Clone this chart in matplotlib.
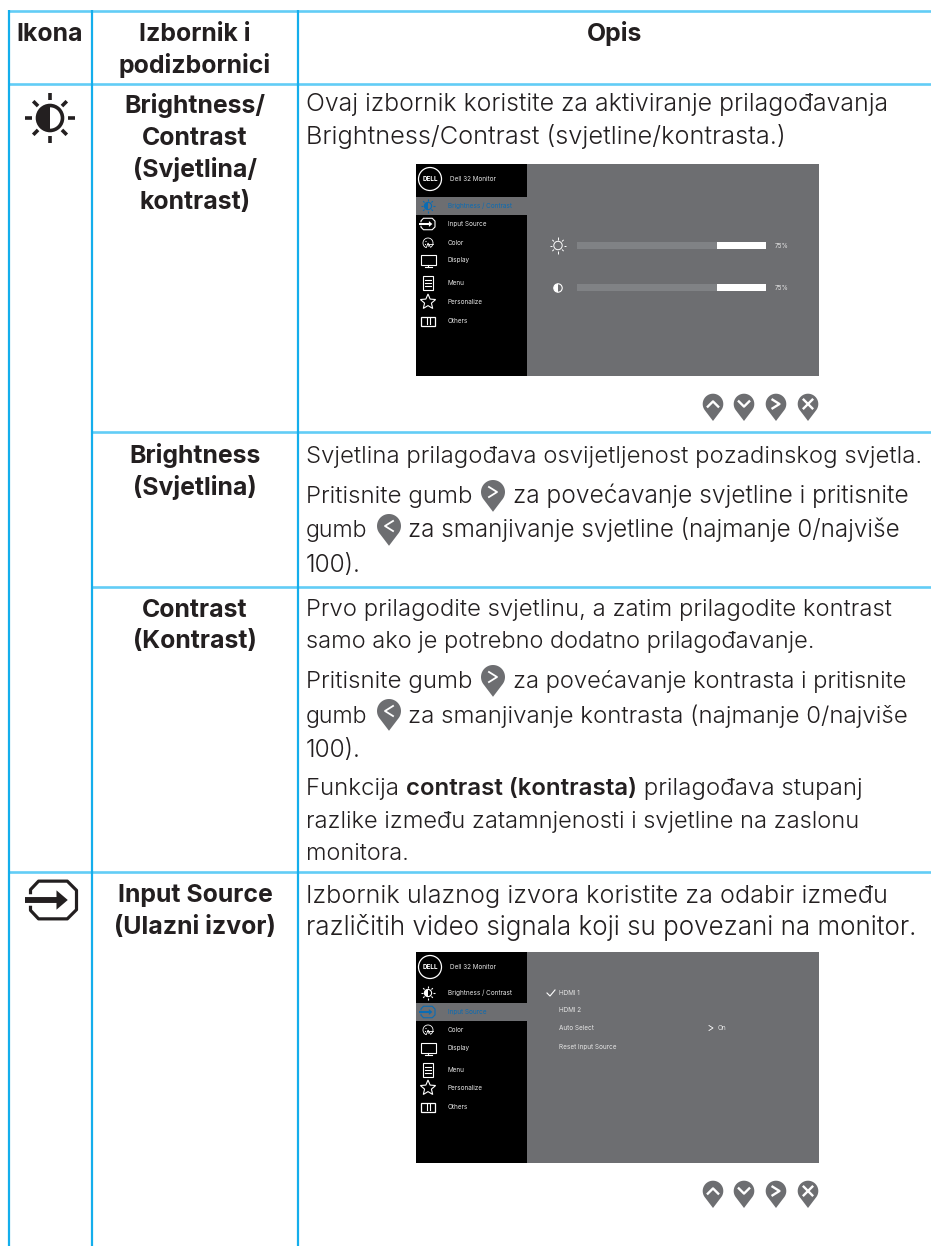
import numpy as np
import matplotlib
matplotlib.use("Agg")
import matplotlib.pyplot as plt
from matplotlib.patches import Circle, Polygon, Rectangle, Wedge

FONT = "Inter"
DARK = "#231F20"
GREY = "#6D6E71"
BLUE_H = "#62CDF6"
BLUE_V = "#14AEEC"
OSD_BLUE = "#0A6CB4"
BODY_SIZE = 16.85
BOLD_SIZE = 17.9

# table grid, in picture pixels
col_lines = [9, 91.5, 298]
full_rows = [11, 84, 872]
part_rows = [432, 587]

header_cells = [("Ikona", 50, 41), ("Izbornik i", 195, 41), ("podizbornici", 195, 73), ("Opis", 615, 41)]

menu_lines = [
    ("Brightness/", 113), ("Contrast", 145), ("(Svjetlina/", 177), ("kontrast)", 209),
    ("Brightness", 463), ("(Svjetlina)", 495),
    ("Contrast", 617), ("(Kontrast)", 648),
    ("Input Source", 902), ("(Ulazni izvor)", 934),
]

# text, baseline, left edge, right edge
body_lines = [
    ("Ovaj izbornik koristite za aktiviranje prilagođavanja", 111, 306, 889),
    ("Brightness/Contrast (svjetline/kontrasta.)", 144, 306, 787),
    ("Svjetlina prilagođava osvijetljenost pozadinskog svjetla.", 463, 306, 921),
    ("Pritisnite gumb", 503, 306, 473),
    ("za povećavanje svjetline i pritisnite", 503, 513, 910),
    ("gumb", 537, 306, 368),
    ("za smanjivanje svjetline (najmanje 0/najviše", 537, 408, 900),
    ("100).", 572, 306, 361),
    ("Prvo prilagodite svjetlinu, a zatim prilagodite kontrast", 616, 306, 891),
    ("samo ako je potrebno dodatno prilagođavanje.", 648, 306, 816),
    ("Pritisnite gumb", 688, 306, 473),
    ("za povećavanje kontrasta i pritisnite", 688, 513, 909),
    ("gumb", 723, 306, 368),
    ("za smanjivanje kontrasta (najmanje 0/najviše", 723, 408, 908),
    ("100).", 757, 306, 361),
    ("razlike između zatamnjenosti i svjetline na zaslonu", 828, 306, 862),
    ("monitora.", 860, 306, 409),
    ("Izbornik ulaznog izvora koristite za odabir između", 903, 306, 889),
    ("različitih video signala koji su povezani na monitor.", 935, 306, 921),
]
mixed_runs = [("Funkcija ", 300), ("contrast (kontrasta)", 600), (" prilagođava stupanj", 300)]
mixed_y = 795
mixed_size = 17.3

inline_pins = [(493, 492, ">"), (389, 526, "<"), (493, 677, ">"), (389, 711, "<")]

# on screen menu
osd_rows = ["Brightness / Contrast", "Input Source", "Color", "Display", "Menu", "Personalize", "Others"]
osd1_top, osd1_bottom = 164, 376
osd2_top, osd2_bottom = 952, 1163
osd1_y = [206, 224, 243, 260, 283, 302, 321]
osd2_y = [993, 1012, 1030, 1048, 1070, 1088, 1107]
bar_values = [75, 75]
bar_y = [245.5, 287.5]
sub_items = [("HDMI 1", 993), ("HDMI 2", 1010.5), ("Auto Select", 1028), ("Reset Input Source", 1047)]
button_x = [713, 744, 776, 808]


def txt(ax, x, y, s, size=BODY_SIZE, weight=300, color=DARK, ha="left"):
    return ax.text(x, y, s, fontsize=size, fontweight=weight, color=color, ha=ha, va="baseline", family=FONT)


def pin(ax, cx, cy, r, mark, lw=None):
    # round head with a pointed tail
    tip = cy + r * 1.65
    a = np.radians(np.linspace(-35, 215, 40))
    pts = np.column_stack([cx + r * np.cos(a), cy - r * np.sin(a)])
    ax.add_patch(Polygon(np.vstack([pts, [[cx, tip]]]), fc=GREY, ec="none"))
    s = r * 0.42
    lw = lw or r * 0.2
    if mark == ">":
        ax.plot([cx - s * 0.8, cx + s * 0.8, cx - s * 0.8], [cy - s, cy, cy + s], color="white", lw=lw)
    elif mark == "<":
        ax.plot([cx + s * 0.8, cx - s * 0.8, cx + s * 0.8], [cy - s, cy, cy + s], color="white", lw=lw)
    elif mark == "^":
        ax.plot([cx - s * 1.2, cx, cx + s * 1.2], [cy + s * 0.6, cy - s * 0.6, cy + s * 0.6], color="white", lw=lw)
    elif mark == "v":
        ax.plot([cx - s * 1.2, cx, cx + s * 1.2], [cy - s * 0.6, cy + s * 0.6, cy - s * 0.6], color="white", lw=lw)
    else:
        ax.plot([cx - s, cx + s], [cy - s, cy + s], color="white", lw=lw)
        ax.plot([cx - s, cx + s], [cy + s, cy - s], color="white", lw=lw)


def sun(ax, cx, cy, r, color, lw, filled=True, zorder=3):
    ax.add_patch(Circle((cx, cy), r, fc="none", ec=color, lw=lw, zorder=zorder))
    if filled:
        ax.add_patch(Wedge((cx, cy), r, 90, 270, fc=color, ec="none", zorder=zorder))
    for deg in range(0, 360, 45):
        a = np.radians(deg)
        r1, r2 = (r * 1.42, r * 2.0) if deg % 90 == 0 else (r * 1.35, r * 1.9)
        ax.plot([cx + r1 * np.cos(a), cx + r2 * np.cos(a)], [cy + r1 * np.sin(a), cy + r2 * np.sin(a)],
                color=color, lw=lw, solid_capstyle="butt", zorder=zorder)


def input_icon(ax, cx, cy, s, color, lw):
    pts = [(-1.0, -0.25), (-1.0, -0.45), (-0.65, -0.82), (0.6, -0.82), (1.0, -0.42),
           (1.0, 0.42), (0.6, 0.82), (-0.65, 0.82), (-1.0, 0.45), (-1.0, 0.25)]
    xs = [cx + p[0] * s for p in pts]
    ys = [cy + p[1] * s for p in pts]
    ax.plot(xs, ys, color=color, lw=lw, solid_joinstyle="round", solid_capstyle="butt", zorder=3)
    ax.plot([cx - 1.25 * s, cx + 0.2 * s], [cy, cy], color=color, lw=lw * 1.85, solid_capstyle="butt", zorder=3)
    ax.add_patch(Polygon([(cx + 0.13 * s, cy - 0.42 * s), (cx + 0.62 * s, cy), (cx + 0.13 * s, cy + 0.42 * s)],
                         fc=color, ec="none", zorder=3))


def palette_icon(ax, cx, cy):
    ax.add_patch(Wedge((cx, cy), 5, 110, 60, fc="none", ec="white", lw=0.6, zorder=3))
    ax.plot([cx - 1.5, cx + 5], [cy + 1, cy + 1], color="white", lw=0.6, zorder=3)
    for dx, dy in [(-2, -1.5), (-2.5, 1.5), (0.5, 3)]:
        ax.add_patch(Circle((cx + dx, cy + dy), 0.6, fc="white", ec="none", zorder=3))


def monitor_icon(ax, cx, cy):
    ax.add_patch(Rectangle((cx - 7.5, cy - 5.5), 15, 10, fc="none", ec="white", lw=0.8, zorder=3))
    ax.plot([cx, cx], [cy + 4.5, cy + 7], color="white", lw=0.8, zorder=3)
    ax.plot([cx - 3.5, cx + 3.5], [cy + 7.2, cy + 7.2], color="white", lw=0.8, zorder=3)


def doc_icon(ax, cx, cy):
    ax.add_patch(Rectangle((cx - 5, cy - 7), 10, 14, fc="none", ec="white", lw=0.8, zorder=3))
    for dy in [-3, 0, 3]:
        ax.plot([cx - 2.8, cx + 2.8], [cy + dy, cy + dy], color="white", lw=0.8, zorder=3)


def star_icon(ax, cx, cy, r=8):
    a = np.radians(np.arange(0, 360, 36) - 90)
    rad = np.where(np.arange(10) % 2 == 0, r, r * 0.45)
    ax.add_patch(Polygon(np.column_stack([cx + rad * np.cos(a), cy + rad * np.sin(a)]),
                         fc="none", ec="white", lw=0.8, zorder=3))


def slider_icon(ax, cx, cy):
    ax.add_patch(Rectangle((cx - 7, cy - 4.5), 14, 9, fc="none", ec="white", lw=0.9, zorder=3))
    ax.plot([cx - 1.5, cx - 1.5], [cy - 3, cy + 3], color="white", lw=0.8, zorder=3)
    ax.plot([cx + 1.5, cx + 1.5], [cy - 3, cy + 3], color="white", lw=0.8, zorder=3)


def osd_panel(ax, top, bottom, rows_y, selected):
    ax.add_patch(Rectangle((416, top), 111, bottom - top, fc="black", ec="none"))
    ax.add_patch(Rectangle((527, top), 292, bottom - top, fc=GREY, ec="none"))
    hy = rows_y[selected]
    ax.add_patch(Rectangle((416, hy - 9), 111, 18, fc=GREY, ec="none", zorder=2))
    # logo
    logo_y = top + 15
    ax.add_patch(Circle((430, logo_y), 11.5, fc="none", ec="white", lw=0.9, zorder=3))
    ax.text(430, logo_y, "DELL", fontsize=4.6, fontweight=700, color="white", ha="center", va="center", family=FONT, zorder=3)
    ax.text(450, logo_y, "Dell 32 Monitor", fontsize=4.6, color="#E6E6E6", ha="left", va="center", family=FONT, zorder=3)
    for i, (label, y) in enumerate(zip(osd_rows, rows_y)):
        col = OSD_BLUE if i == selected else "#E6E6E6"
        ax.text(448, y, label, fontsize=4.6, color=col, ha="left", va="center", family=FONT, zorder=3)
    ix = 428
    sun(ax, ix, rows_y[0], 3.6, OSD_BLUE if selected == 0 else "white", 0.8)
    input_icon(ax, ix, rows_y[1], 7, OSD_BLUE if selected == 1 else "white", 0.8)
    palette_icon(ax, ix, rows_y[2])
    monitor_icon(ax, ix, rows_y[3])
    doc_icon(ax, ix, rows_y[4])
    star_icon(ax, ix, rows_y[5])
    slider_icon(ax, ix, rows_y[6])


fig = plt.figure(figsize=(9.31, 12.46), dpi=100)
ax = fig.add_axes([0, 0, 1, 1])
ax.set_xlim(0, 931)
ax.set_ylim(1246, 0)
ax.axis("off")

# grid
for y in full_rows:
    ax.plot([8, 931], [y, y], color=BLUE_H, lw=1.9, solid_capstyle="butt", zorder=1)
for y in part_rows:
    ax.plot([col_lines[1], 931], [y, y], color=BLUE_H, lw=1.9, solid_capstyle="butt", zorder=1)
for x in col_lines:
    ax.plot([x, x], [10, 1246], color=BLUE_V, lw=1.6, solid_capstyle="butt", zorder=1)

for s, x, y in header_cells:
    txt(ax, x, y, s, size=BOLD_SIZE, weight=700, ha="center")
for s, y in menu_lines:
    txt(ax, 195, y, s, size=BOLD_SIZE, weight=700, ha="center")

fig.canvas.draw()
rend = fig.canvas.get_renderer()

# the original face runs a little differently, so every line gets its own size to end where it should
for s, y, x0, x1 in body_lines:
    t = txt(ax, x0, y, s)
    width = t.get_window_extent(rend).width
    t.set_fontsize(BODY_SIZE * (x1 - x0) / width)

# line with a heavier middle part, each run starts where the last one ended
x_run = 306
for s, w in mixed_runs:
    txt(ax, x_run, mixed_y, s, size=mixed_size, weight=w)
    probe = txt(ax, x_run, mixed_y, s.replace(" ", "\u00a0"), size=mixed_size, weight=w)
    x_run += probe.get_window_extent(rend).width
    probe.remove()

for x, y, m in inline_pins:
    pin(ax, x, y, 12, m, lw=1.3)

sun(ax, 50, 118, 12.5, DARK, 2.6)
input_icon(ax, 53.5, 900, 23, DARK, 2.3)

# first panel
osd_panel(ax, osd1_top, osd1_bottom, osd1_y, 0)
for v, y in zip(bar_values, bar_y):
    x0, w = 577, 189
    split = x0 + w * v / 100 - 2
    ax.add_patch(Rectangle((x0, y - 3.5), split - x0, 7, fc="#808285", ec="none", zorder=3))
    ax.add_patch(Rectangle((split, y - 3.5), x0 + w - split, 7, fc="white", ec="none", zorder=3))
    ax.text(775, y, f"{v}%", fontsize=4.6, color="#E6E6E6", ha="left", va="center", family=FONT, zorder=3)
sun(ax, 558, bar_y[0], 4.2, "white", 0.7, filled=False)
ax.add_patch(Circle((558, bar_y[1] + 0.5), 4.2, fc="none", ec="white", lw=0.8, zorder=3))
ax.add_patch(Wedge((558, bar_y[1] + 0.5), 4.2, 90, 270, fc="white", ec="none", zorder=3))

# second panel
osd_panel(ax, osd2_top, osd2_bottom, osd2_y, 1)
for s, y in sub_items:
    ax.text(559, y, s, fontsize=4.6, color="#E6E6E6", ha="left", va="center", family=FONT, zorder=3)
ax.plot([547, 550, 555], [993, 996, 990], color="white", lw=0.8, zorder=3)
ax.plot([709, 713, 709], [1025.5, 1028, 1030.5], color="white", lw=0.6, zorder=3)
ax.text(718, 1028, "On", fontsize=4.6, color="#E6E6E6", ha="left", va="center", family=FONT, zorder=3)

for top in (404, 1191):
    for x, m in zip(button_x, ["^", "v", ">", "x"]):
        pin(ax, x, top, 10.3, m, lw=1.7)

fig.savefig("out.png", dpi=100)
